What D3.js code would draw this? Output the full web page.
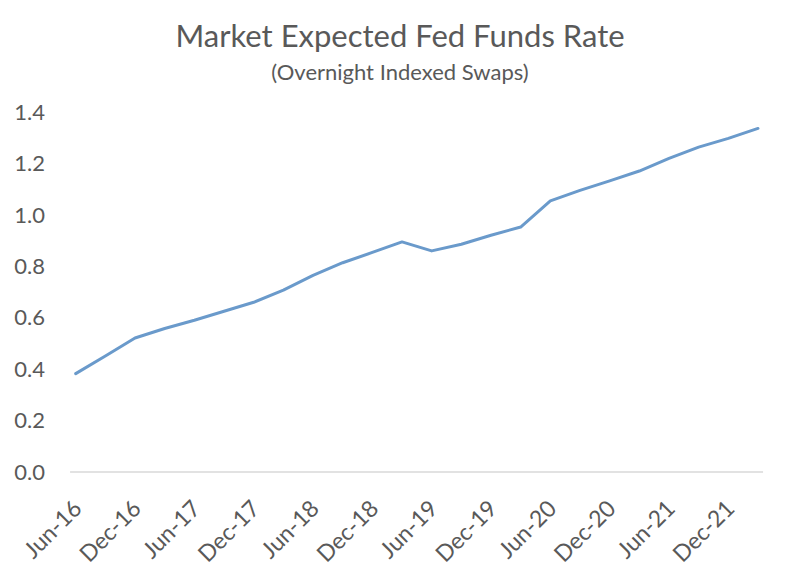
<!DOCTYPE html>
<html>
<head>
<meta charset="utf-8">
<script src="https://cdn.jsdelivr.net/npm/d3@7"></script>
<style>
  html, body { margin: 0; padding: 0; background: #ffffff; }
  svg { display: block; }
  text { font-family: Lato, "Open Sans", sans-serif; fill: #595959; }
</style>
</head>
<body>
<svg id="chart" width="799" height="581"></svg>
<script>
// Quarterly points, Jun-16 through Mar-22
const quarters = [
  "Jun-16","Sep-16","Dec-16","Mar-17","Jun-17","Sep-17","Dec-17","Mar-18",
  "Jun-18","Sep-18","Dec-18","Mar-19","Jun-19","Sep-19","Dec-19","Mar-20",
  "Jun-20","Sep-20","Dec-20","Mar-21","Jun-21","Sep-21","Dec-21","Mar-22"
];
const rates = [
  0.383, 0.452, 0.522, 0.559, 0.591, 0.626, 0.661, 0.708,
  0.766, 0.815, 0.855, 0.896, 0.861, 0.887, 0.922, 0.954,
  1.056, 1.097, 1.134, 1.172, 1.221, 1.265, 1.299, 1.338
];
const xTickLabels = ["Jun-16","Dec-16","Jun-17","Dec-17","Jun-18","Dec-18",
                     "Jun-19","Dec-19","Jun-20","Dec-20","Jun-21","Dec-21"];
const yTicks = [0, 0.2, 0.4, 0.6, 0.8, 1.0, 1.2, 1.4];

const titleText = "Market Expected Fed Funds Rate";
const subtitleText = "(Overnight Indexed Swaps)";

const svg = d3.select("#chart");

const x = d3.scaleLinear().domain([0, quarters.length - 1]).range([75.7, 758]);
const y = d3.scaleLinear().domain([0, 1.4]).range([472, 112.5]);

// Title
svg.append("text")
  .attr("x", 400).attr("y", 47)
  .attr("text-anchor", "middle")
  .style("font-size", "31px")
  .text(titleText);
svg.append("text")
  .attr("x", 400).attr("y", 80)
  .attr("text-anchor", "middle")
  .style("font-size", "22px")
  .text(subtitleText);

// Y axis (labels only)
const yAxis = d3.axisLeft(y).tickValues(yTicks).tickFormat(d3.format(".1f")).tickSize(0).tickPadding(0);
const gy = svg.append("g").attr("transform", "translate(45,0)").call(yAxis);
gy.select(".domain").remove();
gy.selectAll("text")
  .style("font-size", "22px")
  .style("font-family", "Lato, 'Open Sans', sans-serif")
  .attr("fill", "#595959");

// X axis line
svg.append("line")
  .attr("x1", x(-0.19)).attr("x2", x(23.17))
  .attr("y1", y(0)).attr("y2", y(0))
  .attr("stroke", "#d9d9d9").attr("stroke-width", 1.5);

// X axis labels
const tickIdx = xTickLabels.map(l => quarters.indexOf(l));
const xAxis = d3.axisBottom(x).tickValues(tickIdx).tickFormat(i => quarters[i]).tickSize(0).tickPadding(0);
const gx = svg.append("g").attr("transform", `translate(0,${y(0)})`).call(xAxis);
gx.select(".domain").remove();
gx.selectAll("text")
  .style("font-size", "23px")
  .style("font-family", "Lato, 'Open Sans', sans-serif")
  .attr("fill", "#595959")
  .attr("text-anchor", "end")
  .attr("dy", null)
  .attr("y", null)
  .attr("transform", "translate(7,38) rotate(-45)");

// Line
const line = d3.line().x((d, i) => x(i)).y(d => y(d));
svg.append("path")
  .datum(rates)
  .attr("fill", "none")
  .attr("stroke", "#6a9acb")
  .attr("stroke-width", 3)
  .attr("stroke-linejoin", "round")
  .attr("stroke-linecap", "round")
  .attr("d", line);
</script>
</body>
</html>
